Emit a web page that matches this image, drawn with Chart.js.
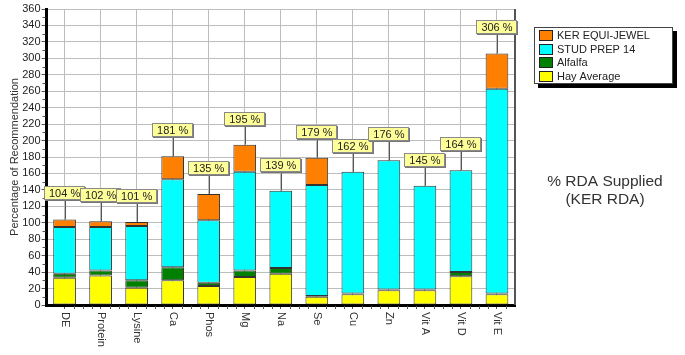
<!DOCTYPE html>
<html><head><meta charset="utf-8">
<script src="https://cdn.jsdelivr.net/npm/chart.js@4.4.1/dist/chart.umd.min.js"></script>
<style>html,body{margin:0;padding:0;background:#fff}</style>
</head><body>
<canvas id="c" width="685" height="355"></canvas>
<script>
const categories = ['DE','Protein','Lysine','Ca','Phos','Mg','Na','Se','Cu','Zn','Vit A','Vit D','Vit E'];
const hayAverage   = [33, 36, 21, 30, 23, 34, 38, 10, 13, 18, 18, 35, 13];
const alfalfa      = [ 5,  6,  9, 16,  4,  8,  7,  1,  1,  1,  1,  5,  1];
const studPrep14   = [57, 53, 66,107, 76,120, 94,135,148,157,126,124,249];
const kerEquiJewel = [ 9,  7,  5, 28, 32, 33,  0, 33,  0,  0,  0,  0, 43];
const seriesNames  = ['Hay Average','Alfalfa','STUD PREP 14','KER EQUI-JEWEL'];
const seriesColors = ['#FFFF00','#008000','#00FFFF','#FF7F00'];
const sideTitle    = ['% RDA Supplied','(KER RDA)'];
const yAxisTitle   = 'Percentage of Recommendation';

const FONT = 'Arial, "Liberation Sans", sans-serif';
Chart.defaults.font.family = FONT;

const seriesData = [hayAverage, alfalfa, studPrep14, kerEquiJewel];
const totals = categories.map((_, i) => seriesData.reduce((s, a) => s + a[i], 0));

const decorPlugin = {
  id: 'decor',
  afterDraw(chart) {
    const ctx = chart.ctx;
    const xs = chart.scales.x, ys = chart.scales.y;
    const ca = chart.chartArea;
    ctx.save();
    // right border
    ctx.strokeStyle = '#555';
    ctx.lineWidth = 2;
    ctx.beginPath();
    ctx.moveTo(ca.right, ca.top);
    ctx.lineTo(ca.right, ca.bottom);
    ctx.stroke();

    // minor ticks
    ctx.strokeStyle = '#555';
    ctx.lineWidth = 1;
    ctx.beginPath();
    for (let v = 10; v < 360; v += 20) {
      const y = Math.round(ys.getPixelForValue(v)) + 0.5;
      ctx.moveTo(ca.left - 4, y);
      ctx.lineTo(ca.left - 1, y);
    }
    for (let i = 0; i < categories.length; i++) {
      const x0 = xs.getPixelForValue(i), x1 = xs.getPixelForValue(i + 1);
      const step = (x1 - x0) / 4;
      for (let q = 1; q < 4; q++) {
        const x = Math.round(x0 + q * step) + 0.5;
        if (x >= ca.right) continue;
        ctx.moveTo(x, ca.bottom + 1);
        ctx.lineTo(x, ca.bottom + 4);
      }
    }
    ctx.stroke();

    // x category labels, rotated clockwise
    ctx.fillStyle = '#333';
    ctx.font = '11px ' + FONT;
    ctx.textAlign = 'left';
    ctx.textBaseline = 'middle';
    categories.forEach((c, i) => {
      const x = xs.getPixelForValue(i);
      ctx.save();
      ctx.translate(x, ca.bottom + 7);
      ctx.rotate(Math.PI / 2);
      ctx.fillText(c, 0, 0);
      ctx.restore();
    });

    // total labels
    ctx.font = '11px ' + FONT;
    ctx.textAlign = 'center';
    totals.forEach((t, i) => {
      const x = xs.getPixelForValue(i);
      const top = ys.getPixelForValue(t);
      const bh = 14;
      const bb = top - 19;
      const txt = t + ' %';
      const w = ctx.measureText(txt).width + 10;
      ctx.strokeStyle = '#555';
      ctx.lineWidth = 1;
      ctx.beginPath();
      ctx.moveTo(Math.round(x) + 0.5, top);
      ctx.lineTo(Math.round(x) + 0.5, bb);
      ctx.stroke();
      const bx = Math.round(x - w / 2), by = Math.round(bb - bh);
      ctx.fillStyle = '#777';
      ctx.fillRect(bx + 1, by + 1, Math.round(w), bh);
      ctx.fillStyle = '#FFFF99';
      ctx.fillRect(bx, by, Math.round(w), bh);
      ctx.strokeStyle = '#8a8a8a';
      ctx.strokeRect(bx + 0.5, by + 0.5, Math.round(w) - 1, bh - 1);
      ctx.fillStyle = '#222';
      ctx.textBaseline = 'middle';
      ctx.fillText(txt, x, by + bh / 2 + 0.5);
    });

    // legend box
    const lx = 534, ly = 27, lw = 139, lh = 57;
    ctx.fillStyle = '#000';
    ctx.fillRect(lx + 4, ly + 4, lw, lh);
    ctx.fillStyle = '#fff';
    ctx.fillRect(lx, ly, lw, lh);
    ctx.strokeStyle = '#444';
    ctx.lineWidth = 1;
    ctx.strokeRect(lx + 0.5, ly + 0.5, lw - 1, lh - 1);
    const order = [3, 2, 1, 0];
    ctx.font = '11px ' + FONT;
    ctx.textAlign = 'left';
    ctx.textBaseline = 'middle';
    order.forEach((k, r) => {
      const cy = 36 + r * 13.6;
      ctx.fillStyle = seriesColors[k];
      ctx.fillRect(539, Math.round(cy - 6), 14, 11);
      ctx.strokeStyle = '#222';
      ctx.strokeRect(539.5, Math.round(cy - 6) + 0.5, 13, 10);
      ctx.fillStyle = '#222';
      ctx.fillText(seriesNames[k], 557, cy);
    });

    // side title
    ctx.font = '15.5px ' + FONT;
    ctx.textAlign = 'center';
    ctx.fillStyle = '#333';
    ctx.fillText(sideTitle[0], 605, 182);
    ctx.fillText(sideTitle[1], 605, 200);
    ctx.restore();
  }
};

new Chart(document.getElementById('c'), {
  type: 'bar',
  data: {
    labels: categories,
    datasets: seriesData.map((d, k) => ({
      label: seriesNames[k],
      data: d,
      backgroundColor: seriesColors[k],
      borderColor: '#333',
      borderWidth: 1,
      borderSkipped: false,
      barPercentage: 0.63,
      categoryPercentage: 1
    }))
  },
  options: {
    responsive: false,
    animation: false,
    devicePixelRatio: 1,
    layout: { padding: { left: 0, right: 170, top: 9, bottom: 46 } },
    plugins: { legend: { display: false }, tooltip: { enabled: false } },
    scales: {
      x: {
        stacked: true,
        grid: { offset: false, color: '#bdbdbd', tickLength: 4, tickColor: '#555' },
        border: { color: '#000', width: 3 },
        ticks: { display: false }
      },
      y: {
        stacked: true, min: 0, max: 360,
        ticks: { stepSize: 20, font: { size: 11 }, color: '#222', padding: 1 },
        grid: { color: '#bdbdbd', tickLength: 5, tickColor: '#555' },
        border: { color: '#000', width: 3 },
        title: { display: true, text: yAxisTitle, font: { size: 11 }, color: '#333', padding: { top: 8, bottom: 0 } }
      }
    }
  },
  plugins: [decorPlugin]
});
</script>
</body></html>
